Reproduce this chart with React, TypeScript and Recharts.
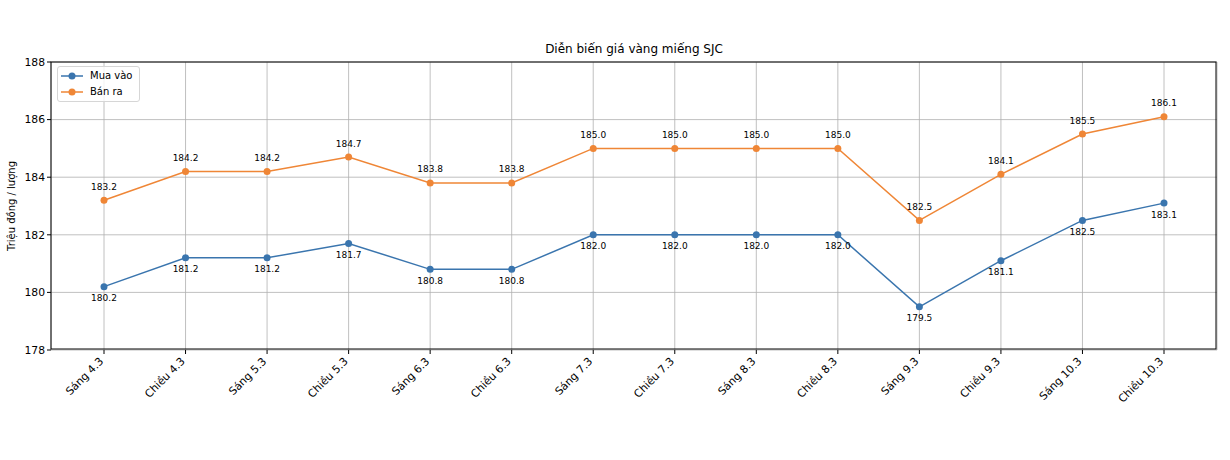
import React from "react";
import { LineChart, Line, XAxis, YAxis, CartesianGrid, LabelList } from "recharts";

const categories = ["Sáng 4.3", "Chiều 4.3", "Sáng 5.3", "Chiều 5.3", "Sáng 6.3", "Chiều 6.3", "Sáng 7.3", "Chiều 7.3", "Sáng 8.3", "Chiều 8.3", "Sáng 9.3", "Chiều 9.3", "Sáng 10.3", "Chiều 10.3"];
const muaVao = [180.2, 181.2, 181.2, 181.7, 180.8, 180.8, 182.0, 182.0, 182.0, 182.0, 179.5, 181.1, 182.5, 183.1];
const banRa = [183.2, 184.2, 184.2, 184.7, 183.8, 183.8, 185.0, 185.0, 185.0, 185.0, 182.5, 184.1, 185.5, 186.1];
const yTicks = [178, 180, 182, 184, 186, 188];

const data = categories.map((c, i) => ({ name: c, mua: muaVao[i], ban: banRa[i] }));

const FONT = "'DejaVu Sans', sans-serif";
const BLUE = "#3a75ae";
const ORANGE = "#ef8636";

const XTick = (props: any) => {
  const { x, y, payload } = props;
  const tx = x;
  const ty = y + 6;
  return (
    <text
      x={tx}
      y={ty}
      transform={`rotate(-45, ${tx}, ${ty})`}
      textAnchor="end"
      fontSize={10.8}
      fontFamily={FONT}
      fill="#000"
    >
      {payload.value}
    </text>
  );
};

const topLabel = (props: any) => {
  const { x, y, value } = props;
  return (
    <text x={x} y={y - 10.5} textAnchor="middle" fontSize={9} fontFamily={FONT} fill="#000">
      {Number(value).toFixed(1)}
    </text>
  );
};

const bottomLabel = (props: any) => {
  const { x, y, value } = props;
  return (
    <text x={x} y={y + 14.5} textAnchor="middle" fontSize={9} fontFamily={FONT} fill="#000">
      {Number(value).toFixed(1)}
    </text>
  );
};

const LegendBox = () => (
  <div
    style={{
      position: "absolute",
      left: 57,
      top: 66,
      width: 83,
      height: 36,
      border: "1px solid #d6d6d6",
      borderRadius: 3,
      background: "rgba(255,255,255,0.8)",
      fontFamily: FONT,
      fontSize: 10,
      boxSizing: "border-box",
    }}
  >
    {[
      { label: "Mua vào", color: BLUE, top: 3 },
      { label: "Bán ra", color: ORANGE, top: 19 },
    ].map((it) => (
      <div key={it.label} style={{ position: "absolute", left: 2, top: it.top, height: 12, display: "flex", alignItems: "center" }}>
        <svg width={24} height={12}>
          <line x1={1} y1={6} x2={23} y2={6} stroke={it.color} strokeWidth={1.5} />
          <circle cx={12} cy={6} r={3.5} fill={it.color} />
        </svg>
        <span style={{ marginLeft: 6, color: "#000", lineHeight: "12px" }}>{it.label}</span>
      </div>
    ))}
  </div>
);

export default function App() {
  return (
    <div style={{ position: "absolute", left: 0, top: 0, width: 1230, height: 460, background: "#fff" }}>
      <div
        style={{
          position: "absolute",
          left: 51,
          width: 1166,
          top: 42,
          textAlign: "center",
          fontFamily: FONT,
          fontSize: 12,
          color: "#000",
        }}
      >
        Diễn biến giá vàng miếng SJC
      </div>
      <svg style={{ position: "absolute", left: 0, top: 0 }} width={30} height={460}>
        <text
          x={15}
          y={206}
          transform="rotate(-90, 15, 206)"
          textAnchor="middle"
          fontSize={10}
          fontFamily={FONT}
          fill="#000"
        >
          Triệu đồng / lượng
        </text>
      </svg>
      <div style={{ position: "absolute", left: 0, top: 0 }}>
        <LineChart width={1230} height={460} data={data} margin={{ top: 62, right: 13, bottom: 0, left: 0 }}>
          <CartesianGrid stroke="#b0b0b0" strokeWidth={0.8} />
          <XAxis
            dataKey="name"
            interval={0}
            padding={{ left: 53, right: 53 }}
            height={110}
            tick={<XTick />}
            tickSize={4}
            tickLine={{ stroke: "#000" }}
            axisLine={false}
          />
          <YAxis
            domain={[178, 188]}
            ticks={yTicks}
            width={51}
            tickSize={4}
            tickLine={{ stroke: "#000" }}
            axisLine={false}
            tick={{ fontSize: 10.8, fontFamily: FONT, fill: "#000" }}
            interval={0}
          />
          <Line
            type="linear"
            dataKey="mua"
            name="Mua vào"
            stroke={BLUE}
            strokeWidth={1.5}
            dot={{ r: 3.5, fill: BLUE, stroke: BLUE, strokeWidth: 0 }}
            activeDot={false}
            isAnimationActive={false}
          >
            <LabelList dataKey="mua" content={bottomLabel} />
          </Line>
          <Line
            type="linear"
            dataKey="ban"
            name="Bán ra"
            stroke={ORANGE}
            strokeWidth={1.5}
            dot={{ r: 3.5, fill: ORANGE, stroke: ORANGE, strokeWidth: 0 }}
            activeDot={false}
            isAnimationActive={false}
          >
            <LabelList dataKey="ban" content={topLabel} />
          </Line>
        </LineChart>
      </div>
      <div
        style={{
          position: "absolute",
          left: 51,
          top: 62,
          width: 1166,
          height: 288,
          border: "1px solid #000",
          boxSizing: "border-box",
          pointerEvents: "none",
          transform: "translate(-0.5px, -0.5px)",
        }}
      />
      <LegendBox />
    </div>
  );
}
